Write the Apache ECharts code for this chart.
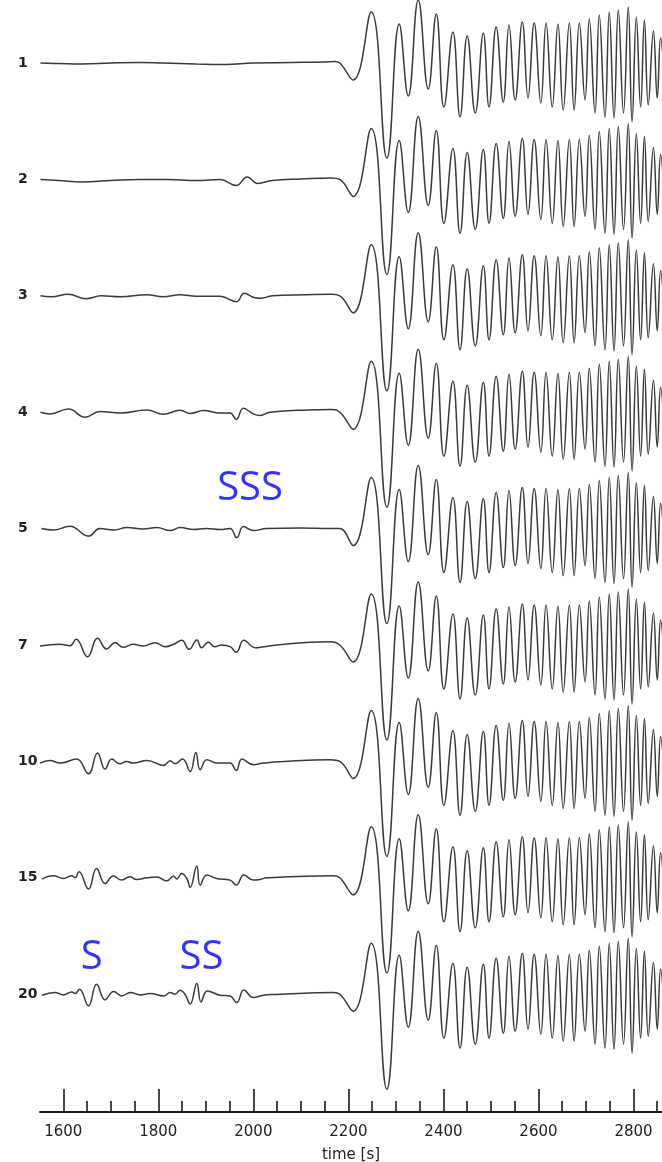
<!DOCTYPE html>
<html><head><meta charset="utf-8">
<script src="https://cdn.jsdelivr.net/npm/echarts@6/dist/echarts.min.js"></script>
<style>html,body{margin:0;padding:0;background:#fff}#c{width:662px;height:1162px}</style>
</head><body><div id="c"></div>
<script>
// trace labels (top to bottom)
const traceNames = ['1', '2', '3', '4', '5', '7', '10', '15', '20'];

// early part of each trace: [time (s), amplitude]
const early1 = [[1552,0],[1590,-0.5],[1640,-1],[1700,0],[1760,0.5],[1810,0],[1880,-1],[1940,-1.5],[2000,0],[2080,0.5],[2150,1],[2172,1.5]];
const early2 = [[1552,0],[1590,-1],[1640,-2.5],[1700,-1],[1760,0],[1820,0],[1880,-1],[1930,0],[1964,-6],[1987,2.5],[2009,-4],[2040,-1],[2100,0.5],[2165,1.5]];
const early3 = [[1552,0],[1575,-1],[1610,1.5],[1648,-3],[1680,0],[1720,-1],[1776,1],[1810,-1],[1846,1],[1880,-0.5],[1930,-0.5],[1964,-6],[1981,2.5],[2003,-2],[2014,-2.5],[2040,0],[2110,1],[2165,1.5]];
const early4 = [[1552,0],[1572,-1.7],[1611,3.3],[1646,-5],[1677,0.7],[1720,-0.7],[1776,2.3],[1810,-2],[1846,2],[1867,-1.3],[1895,1.7],[1930,-0.7],[1951,-0.7],[1964,-7.3],[1979,4],[2000,-1.7],[2014,-3.3],[2035,0],[2113,2.3],[2162,2.7]];
const early5 = [[1554,0],[1579,-1.5],[1614,2.3],[1653,-7.5],[1677,0],[1705,-1.5],[1734,1],[1768,-0.5],[1797,1],[1825,-2],[1846,1],[1874,-1],[1902,0],[1930,-1],[1951,0],[1965,-9],[1979,2],[2000,-2],[2028,0],[2098,0.5],[2162,0]];
const early7 = [[1551,-1],[1593,0.7],[1614,-0.7],[1627,5.7],[1651,-11.7],[1672,6.7],[1691,-4],[1709,2.3],[1726,-2.3],[1747,0.7],[1768,-1],[1793,2.3],[1814,-1.7],[1832,0.7],[1849,4.7],[1865,-4.3],[1881,5],[1891,-2.7],[1905,2.7],[1919,-1.7],[1933,0],[1951,-1.7],[1964,-7.3],[1980,4.7],[2004,-2.7],[2022,-1.7],[2049,0],[2119,2.7],[2162,3.3]];
const early10 = [[1551,-1.7],[1572,1],[1593,-1.7],[1628,2.3],[1653,-12.3],[1672,8.3],[1688,-7.7],[1702,2.3],[1719,-2.3],[1733,0],[1747,-1.7],[1776,1],[1811,-4],[1825,0.7],[1835,-2.3],[1851,2.3],[1867,-10],[1879,9],[1888,-8.3],[1902,1.7],[1923,-1.7],[1951,-1.7],[1964,-9],[1976,2.3],[2000,-3.3],[2021,-1.7],[2063,0],[2162,1.7]];
const early15 = [[1555,-1.3],[1579,2],[1600,-0.7],[1618,2],[1625,0],[1633,6],[1653,-11.3],[1670,9.3],[1688,-5.7],[1705,1.7],[1723,-2.3],[1740,1],[1754,-1.7],[1776,0],[1797,0.7],[1818,-3],[1832,1.7],[1839,-1.3],[1849,4.3],[1860,-0.7],[1867,-9.7],[1881,11.7],[1888,-7.3],[1902,2.7],[1923,-0.7],[1951,-2.3],[1964,-7.3],[1980,2.7],[2000,-2.3],[2014,-1.7],[2028,0],[2169,2]];
const early20 = [[1555,-1],[1583,1.7],[1600,-0.7],[1618,2.3],[1625,0.7],[1634,5],[1653,-11.7],[1670,10],[1688,-5.7],[1706,2.7],[1723,-1.7],[1741,1.7],[1762,-0.7],[1783,0.7],[1811,-1.7],[1825,1.7],[1835,0],[1846,4],[1856,0],[1867,-10],[1881,10.7],[1890,-7.7],[1903,3.3],[1930,-1],[1951,-1.7],[1965,-8.3],[1980,4.3],[2000,-3.3],[2021,-1],[2049,-0.3],[2169,1.7]];
const earlyParts = [early1, early2, early3, early4, early5, early7, early10, early15, early20];

// surface-wave train common to all traces: [time (s), amplitude]
const surfaceWave = [[2182,0],[2210,-17],[2248,51],[2281,-95],[2307,39],[2326,-33],[2347,63],[2368,-26],[2385,49],[2401,-44],[2420,31],[2435,-54],[2450,27],[2467,-50],[2484,30],[2496,-44],[2511,36],[2526,-39],[2538,38],[2551,-37],[2566,41],[2578,-35],[2591,40],[2605,-40],[2616,40],[2629,-44],[2641,39],[2652,-47],[2665,40],[2675,-47],[2686,40],[2698,-37],[2707,44],[2719,-50],[2728,48],[2740,-54],[2749,51],[2759,-55],[2768,53],[2779,-50],[2789,56],[2797,-59],[2806,46],[2815,-44],[2823,43],[2831,-42],[2842,32],[2850,-35],[2857,25],[2865,-20]];

const majorTicks = [1600, 1800, 2000, 2200, 2400, 2600, 2800];
const minorTicks = [1650,1700,1750,1850,1900,1950,2050,2100,2150,2250,2300,2350,2450,2500,2550,2650,2700,2750,2850];

// annotations: [text, trace, time (s), amplitude]
const annotations = [['S', '20', 1660, 37], ['SS', '20', 1891, 37], ['SSS', '5', 1993, 40]];

const T_MIN = 1551, T_MAX = 2860;
const LEFT = 40;
const firstBase = 63, spacing = 116.4;
const AXIS_FONT = 'DejaVu Sans, Liberation Sans, Arial, sans-serif';

const grids = [{left: LEFT, right: 0, top: 0, bottom: 50, outerBoundsMode: 'none', containLabel: false}];
const xAxes = [
  {gridIndex: 0, type: 'value', min: T_MIN, max: T_MAX, position: 'bottom',
   axisLine: {show: true, onZero: false, lineStyle: {color: '#1a1a1a', width: 2}},
   axisTick: {show: true, inside: true, length: 23, customValues: majorTicks, lineStyle: {color: '#1a1a1a', width: 1.6}},
   axisLabel: {show: true, customValues: majorTicks, margin: 13, fontSize: 15, color: '#222',
     formatter: v => String(v), fontFamily: AXIS_FONT},
   splitLine: {show: false},
   name: 'time [s]', nameLocation: 'middle', nameGap: 36,
   nameTextStyle: {fontSize: 15, color: '#222', fontFamily: AXIS_FONT}},
  {gridIndex: 0, type: 'value', min: T_MIN, max: T_MAX, position: 'bottom',
   axisLine: {show: false, onZero: false},
   axisTick: {show: true, inside: true, length: 11, customValues: minorTicks, lineStyle: {color: '#1a1a1a', width: 1.6}},
   axisLabel: {show: false}, splitLine: {show: false}}
];
const yAxes = [{gridIndex: 0, type: 'value', show: false, min: -1, max: 1}];
const series = [];

traceNames.forEach((name, i) => {
  const base = firstBase + i * spacing;
  grids.push({left: LEFT, right: 0, top: base - 40, height: 80, outerBoundsMode: 'none', containLabel: false});
  const gi = i + 1;
  xAxes.push({gridIndex: gi, type: 'value', min: T_MIN, max: T_MAX, show: false});
  yAxes.push({gridIndex: gi, type: 'value', min: -40, max: 40,
    axisLine: {show: false}, axisTick: {show: false}, splitLine: {show: false},
    axisLabel: {show: true, customValues: [0], align: 'left', margin: 22,
      formatter: () => name, fontSize: 14, fontWeight: 'bold', color: '#222',
      fontFamily: AXIS_FONT}});
  series.push({
    type: 'line', xAxisIndex: gi + 1, yAxisIndex: gi,
    data: earlyParts[i].concat(surfaceWave),
    smooth: 0.45, showSymbol: false, clip: false, silent: true,
    lineStyle: {color: '#3a3a3a', width: 1.5}
  });
});

annotations.forEach(([text, trace, t, a]) => {
  const i = traceNames.indexOf(trace);
  series.push({
    type: 'scatter', xAxisIndex: i + 2, yAxisIndex: i + 1,
    data: [[t, a]], symbolSize: 1, itemStyle: {color: 'rgba(0,0,0,0)'}, silent: true, clip: false,
    label: {show: true, position: 'inside', formatter: text, fontSize: 40,
      color: '#0000ff', fontFamily: 'Open Sans, Noto Sans, sans-serif'}
  });
});

const chart = echarts.init(document.getElementById('c'), null, {renderer: 'canvas'});
chart.setOption({animation: false, backgroundColor: '#fff', grid: grids, xAxis: xAxes, yAxis: yAxes, series: series});
</script></body></html>
